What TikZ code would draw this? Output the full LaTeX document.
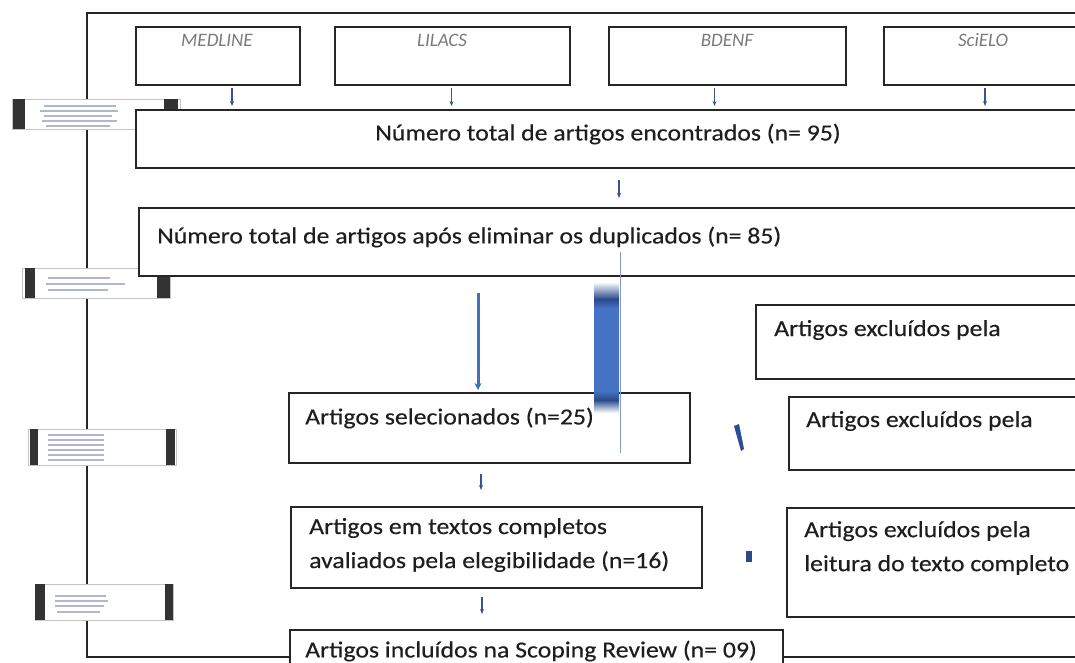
\documentclass[tikz,border=0pt]{standalone}
\usepackage{fontspec}
\setmainfont{Carlito}
\newfontfamily\boxfont[FakeStretch=1.12,FakeBold=0.3]{Carlito}
\usetikzlibrary{arrows.meta}
\definecolor{boxc}{HTML}{262626}
\definecolor{txtc}{HTML}{1E1E1E}
\definecolor{srcc}{HTML}{7A7A7A}
\definecolor{arrblue}{HTML}{36558F}
\definecolor{thickblue}{HTML}{4470B8}
\definecolor{bardark}{HTML}{2A4A8A}
\definecolor{barmid}{HTML}{4472C4}
\definecolor{blurc}{HTML}{9AA6BE}
\definecolor{sidec}{HTML}{C4C4C4}
\pgfdeclareverticalshading{barshade}{100bp}{color(0bp)=(white); color(25bp)=(white); color(30bp)=(bardark); color(33.5bp)=(barmid); color(65bp)=(barmid); color(68.5bp)=(bardark); color(75bp)=(white); color(100bp)=(white)}
\begin{document}
\begin{tikzpicture}[x=1pt,y=-1pt,
  box/.style={draw=boxc, line width=1.4pt, fill=white, anchor=north west, inner sep=0pt, outer sep=0pt},
  txt/.style={font=\boxfont\fontsize{23}{34}\selectfont, text=txtc, inner sep=0pt, anchor=west, align=left},
  src/.style={font=\fontsize{19}{22}\selectfont\itshape, text=srcc, inner sep=0pt},
  sarr/.style={draw=arrblue, line width=1.2pt, -{Stealth[length=5pt,width=4pt]}},
  tarr/.style={draw=thickblue, line width=3pt, -{Stealth[length=7pt,width=7pt]}},
  frame/.style={draw=boxc, line width=1.4pt},
  side/.style={draw=sidec, line width=0.8pt, fill=white},
  sbar/.style={fill=black!80, draw=none},
  blur/.style={draw=blurc, line width=2.2pt, opacity=0.8}
]
\useasboundingbox (0,0) rectangle (1075,662);
\clip (0,0) rectangle (1075,662);

% outer frame
\draw[frame] (1090,13) -- (87,13) -- (87,657) -- (1090,657);

% side labels (blurred)
\node[side, anchor=north west, minimum width=168, minimum height=30, inner sep=0pt] (s1) at (12,99) {};
\fill[sbar] (13,99) rectangle (25,129);
\fill[sbar] (164,99) rectangle (178,129);
\foreach \yy/\xa/\xb in {106/44/116, 111/40/118, 116/44/112, 121/42/117, 126/46/110} \draw[blur] (\xa,\yy) -- (\xb,\yy);

\node[side, anchor=north west, minimum width=148, minimum height=30, inner sep=0pt] (s2) at (22,268) {};
\fill[sbar] (25,268) rectangle (35,298);
\fill[sbar] (157,268) rectangle (170,298);
\foreach \yy/\xa/\xb in {278/48/110, 284/46/125, 290/48/108} \draw[blur] (\xa,\yy) -- (\xb,\yy);

\node[side, anchor=north west, minimum width=148, minimum height=36, inner sep=0pt] (s3) at (28,429) {};
\fill[sbar] (30,429) rectangle (38,465);
\fill[sbar] (166,429) rectangle (175,465);
\foreach \yy in {435,440,445,450,455,460} \draw[blur] (48,\yy) -- (104,\yy);

\node[side, anchor=north west, minimum width=138, minimum height=36, inner sep=0pt] (s4) at (35,584) {};
\fill[sbar] (35,584) rectangle (45,620);
\fill[sbar] (165,584) rectangle (173,620);
\foreach \yy/\xa/\xb in {596/55/106, 601/55/108, 606/55/104, 612/57/100} \draw[blur] (\xa,\yy) -- (\xb,\yy);

% source boxes
\node[box, minimum width=164, minimum height=58] (med) at (136,27) {};
\node[box, minimum width=235, minimum height=58] (lil) at (335,27) {};
\node[box, minimum width=237, minimum height=58] (bde) at (609,27) {};
\node[box, minimum width=200, minimum height=58] (sci) at (884,27) {};
\node[src] (medt) at (217,40) {MEDLINE};
\node[src] (lilt) at (442,40) {LILACS};
\node[src] (bdet) at (727,40) {BDENF};
\node[src] (scit) at (983,40) {SciELO};

% main boxes
\node[box, minimum width=944, minimum height=58] (n1) at (136,110) {};
\node[box, minimum width=941, minimum height=68] (n2) at (139,208) {};
\node[box, minimum width=324, minimum height=74] (ex1) at (756,305) {};
\node[box, minimum width=401, minimum height=70] (sel) at (289,393) {};
\node[box, minimum width=291, minimum height=73] (ex2) at (789,397) {};
\node[box, minimum width=411, minimum height=81] (full) at (291,507) {};
\node[box, minimum width=293, minimum height=109] (ex3) at (787,508) {};
\node[box, minimum width=493, minimum height=50] (inc) at (290,630) {};

% texts
\node[txt, anchor=center] (t1) at (608,134) {Número total de artigos encontrados (n= 95)};
\node[txt] (t2) at (157,237) {Número total de artigos após eliminar os duplicados (n= 85)};
\node[txt] (tex1) at (774,330) {Artigos excluídos pela};
\node[txt] (tsel) at (305,418) {Artigos selecionados (n=25)};
\node[txt] (tex2) at (806,421) {Artigos excluídos pela};
\node[txt] (tfull) at (309,545) {Artigos em textos completos\\avaliados pela elegibilidade (n=16)};
\node[txt] (tex3) at (804,548) {Artigos excluídos pela\\leitura do texto completo};
\node[txt] (tinc) at (305,651) {Artigos incluídos na Scoping Review (n= 09)};

% source arrows
\draw[sarr, shorten <=3pt, shorten >=4pt] ([xshift=14pt]med.south) -- ([xshift=14pt]med.south |- n1.north);
\draw[sarr, shorten <=3pt, shorten >=4pt] ([xshift=-1pt]lil.south) -- ([xshift=-1pt]lil.south |- n1.north);
\draw[sarr, shorten <=3pt, shorten >=4pt] ([xshift=-13pt]bde.south) -- ([xshift=-13pt]bde.south |- n1.north);
\draw[sarr, shorten <=3pt, shorten >=4pt] ([xshift=1pt]sci.south) -- ([xshift=1pt]sci.south |- n1.north);

% flow arrows
\draw[sarr, shorten <=12pt, shorten >=10pt] ([xshift=11pt]n1.south) -- ([xshift=11pt]n1.south |- n2.north);
\draw[tarr, shorten <=17pt, shorten >=3pt] ([xshift=-11.5pt]sel.north |- n2.south) -- ([xshift=-11.5pt]sel.north);
\draw[sarr, shorten <=11pt, shorten >=17pt] ([xshift=-8.5pt]sel.south) -- ([xshift=-8.5pt]sel.south |- full.north);
\draw[sarr, shorten <=9pt, shorten >=16pt] ([xshift=-14.5pt]full.south) -- ([xshift=-14.5pt]full.south |- inc.north);

% artefacts: thin line and blue bar
\draw[draw=arrblue!60, line width=0.7pt] (620,252) -- (620,453);
\shade[shading=barshade] (594,282) rectangle (619,413);
\fill[bardark!90!barmid] (734,426) -- (739,424) -- (744,449) -- (741,451) -- cycle;
\fill[bardark] (746,551) rectangle (752,562);
\end{tikzpicture}
\end{document}
